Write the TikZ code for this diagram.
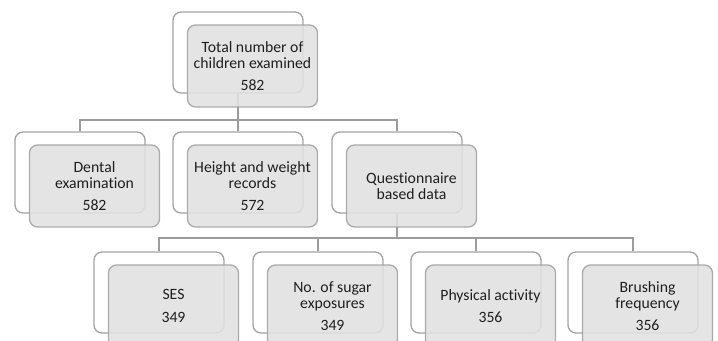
\documentclass[tikz,border=0pt]{standalone}
\usepackage{fontspec}
\setmainfont{Carlito}[Ligatures=NoCommon]
\begin{document}
\begin{tikzpicture}[x=0.75pt,y=-0.75pt,
  backbox/.style={draw=boxgray,line width=1pt,fill=white,rounded corners=6pt,
    minimum width=97.5pt,minimum height=60.75pt,inner sep=0pt},
  frontbox/.style={draw=boxgray,line width=1pt,fill=frontgray,fill opacity=0.88,
    draw opacity=0.9,text opacity=1,rounded corners=6pt,
    minimum width=97.5pt,minimum height=61.5pt,inner sep=0pt,align=center,
    font=\fontsize{11.8pt}{12.2pt}\selectfont,text=black!88},
  conn/.style={draw=conngray,line width=1.6pt}]
\definecolor{boxgray}{HTML}{A3A3A3}
\definecolor{frontgray}{HTML}{E1E1E1}
\definecolor{conngray}{HTML}{9C9C9C}
\useasboundingbox (0,0) rectangle (718,341);
\clip (0,0) rectangle (718,341);
\coordinate (busA) at (0,120);
\coordinate (busB) at (0,238);
% back boxes
\node[backbox] (rootb) at (238,52.5) {};
\node[backbox] (dentb) at (80,172.5) {};
\node[backbox] (heigb) at (238,172.5) {};
\node[backbox] (questb) at (397,172.5) {};
\node[backbox] (sesb) at (159,292.5) {};
\node[backbox] (sugb) at (318,292.5) {};
\node[backbox] (physb) at (476,292.5) {};
\node[backbox] (brushb) at (633,292.5) {};
% connectors
\draw[conn] (rootb.south) -- (rootb.south |- busA) -| (dentb.north);
\draw[conn] (rootb.south) -- (rootb.south |- busA) -| (heigb.north);
\draw[conn] (rootb.south) -- (rootb.south |- busA) -| (questb.north);
\draw[conn] (questb.south) -- (questb.south |- busB) -| (sesb.north);
\draw[conn] (questb.south) -- (questb.south |- busB) -| (sugb.north);
\draw[conn] (questb.south) -- (questb.south |- busB) -| (physb.north);
\draw[conn] (questb.south) -- (questb.south |- busB) -| (brushb.north);
% front boxes
\node[frontbox] (root) at (252.5,66) {Total number of\\children examined\\[4.4pt]582};
\node[frontbox] (dent) at (94.5,186) {Dental\\examination\\[4.4pt]582};
\node[frontbox] (heig) at (252.5,186) {Height and weight\\records\\[4.4pt]572};
\node[frontbox] (quest) at (411.5,186) {Questionnaire\\based data};
\node[frontbox] (ses) at (173.5,306) {SES\\[4.4pt]349};
\node[frontbox] (sug) at (332.5,306) {No. of sugar\\exposures\\[4.4pt]349};
\node[frontbox] (phys) at (490.5,306) {Physical activity\\[4.4pt]356};
\node[frontbox] (brush) at (647.5,306) {Brushing\\frequency\\[4.4pt]356};
\end{tikzpicture}
\end{document}
